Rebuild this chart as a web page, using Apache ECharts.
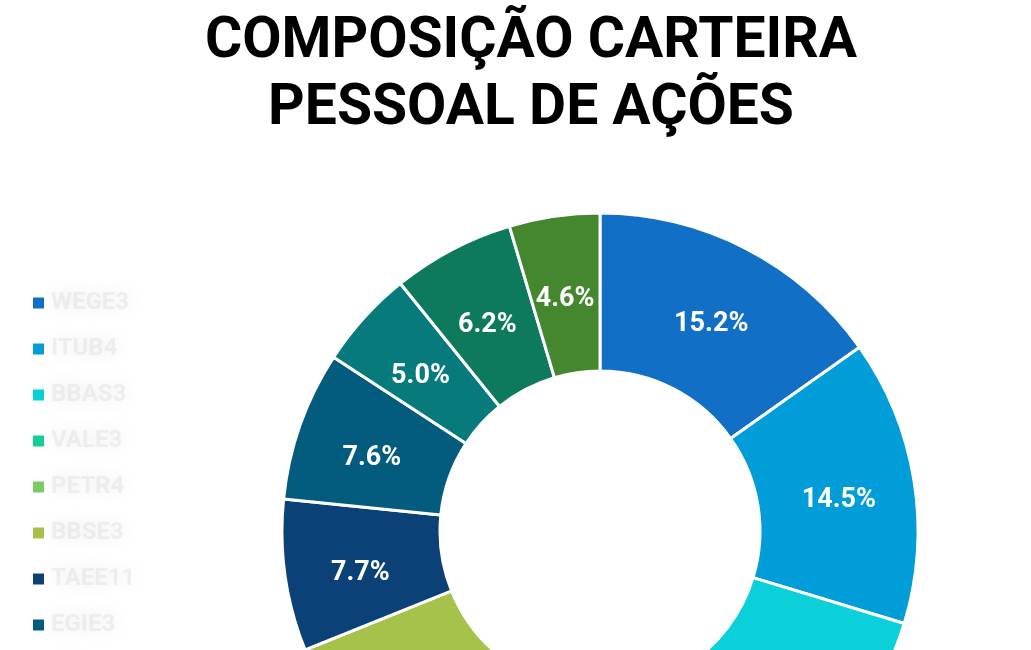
<!DOCTYPE html>
<html>
<head>
<meta charset="utf-8">
<script src="https://cdn.jsdelivr.net/npm/echarts@6/dist/echarts.min.js"></script>
<style>html,body{margin:0;padding:0;background:#fff;}#c{width:1031px;height:650px;}</style>
</head>
<body>
<div id="c"></div>
<script>
const titleText = 'COMPOSIÇÃO CARTEIRA\nPESSOAL DE AÇÕES';
const names = ['WEGE3', 'ITUB4', 'BBAS3', 'VALE3', 'PETR4', 'BBSE3', 'TAEE11', 'EGIE3', 'ITSA4', 'FLRY3', 'KLBN11'];
const values = [15.2, 14.5, 11.4, 9.8, 8.3, 9.7, 7.7, 7.6, 5.0, 6.2, 4.6];
const colors = ['#116FC5', '#019DD9', '#0BD0D9', '#10CF97', '#7BCB65', '#A6C24A', '#0B4176', '#035B7E', '#077A7B', '#0D7A5D', '#45872F'];

const chart = echarts.init(document.getElementById('c'), null, {renderer: 'canvas'});
chart.setOption({
  animation: false,
  backgroundColor: '#fff',
  color: colors,
  title: {
    text: titleText,
    left: 526,
    textAlign: 'center',
    top: 4,
    textStyle: {
      fontFamily: 'Roboto, "Liberation Sans", sans-serif',
      fontWeight: 'bold',
      fontSize: 57,
      lineHeight: 67,
      color: '#000'
    }
  },
  legend: {
    orient: 'vertical',
    left: 26,
    top: 286,
    height: 700,
    icon: 'rect',
    itemWidth: 13,
    itemHeight: 13,
    itemGap: 22,
    textStyle: {
      fontFamily: 'Roboto, sans-serif',
      fontWeight: 'bold',
      fontSize: 24,
      color: 'rgba(170,170,170,0.15)',
      textShadowColor: 'rgba(130,130,130,1)',
      textShadowBlur: 15,
      padding: [0, 0, 0, 1]
    }
  },
  series: [{
    type: 'pie',
    center: [600, 531],
    radius: [160, 318],
    startAngle: 90,
    clockwise: true,
    avoidLabelOverlap: false,
    itemStyle: { borderColor: '#fff', borderWidth: 3 },
    label: {
      show: true,
      position: 'inside',
      formatter: p => p.value.toFixed(1) + '%',
      color: '#fff',
      fontFamily: 'Roboto, sans-serif',
      fontWeight: 'bold',
      fontSize: 27
    },
    labelLayout: { dy: 8 },
    labelLine: { show: false },
    emphasis: { disabled: true },
    data: names.map((n, i) => ({ name: n, value: values[i] }))
  }]
});
</script>
</body>
</html>
